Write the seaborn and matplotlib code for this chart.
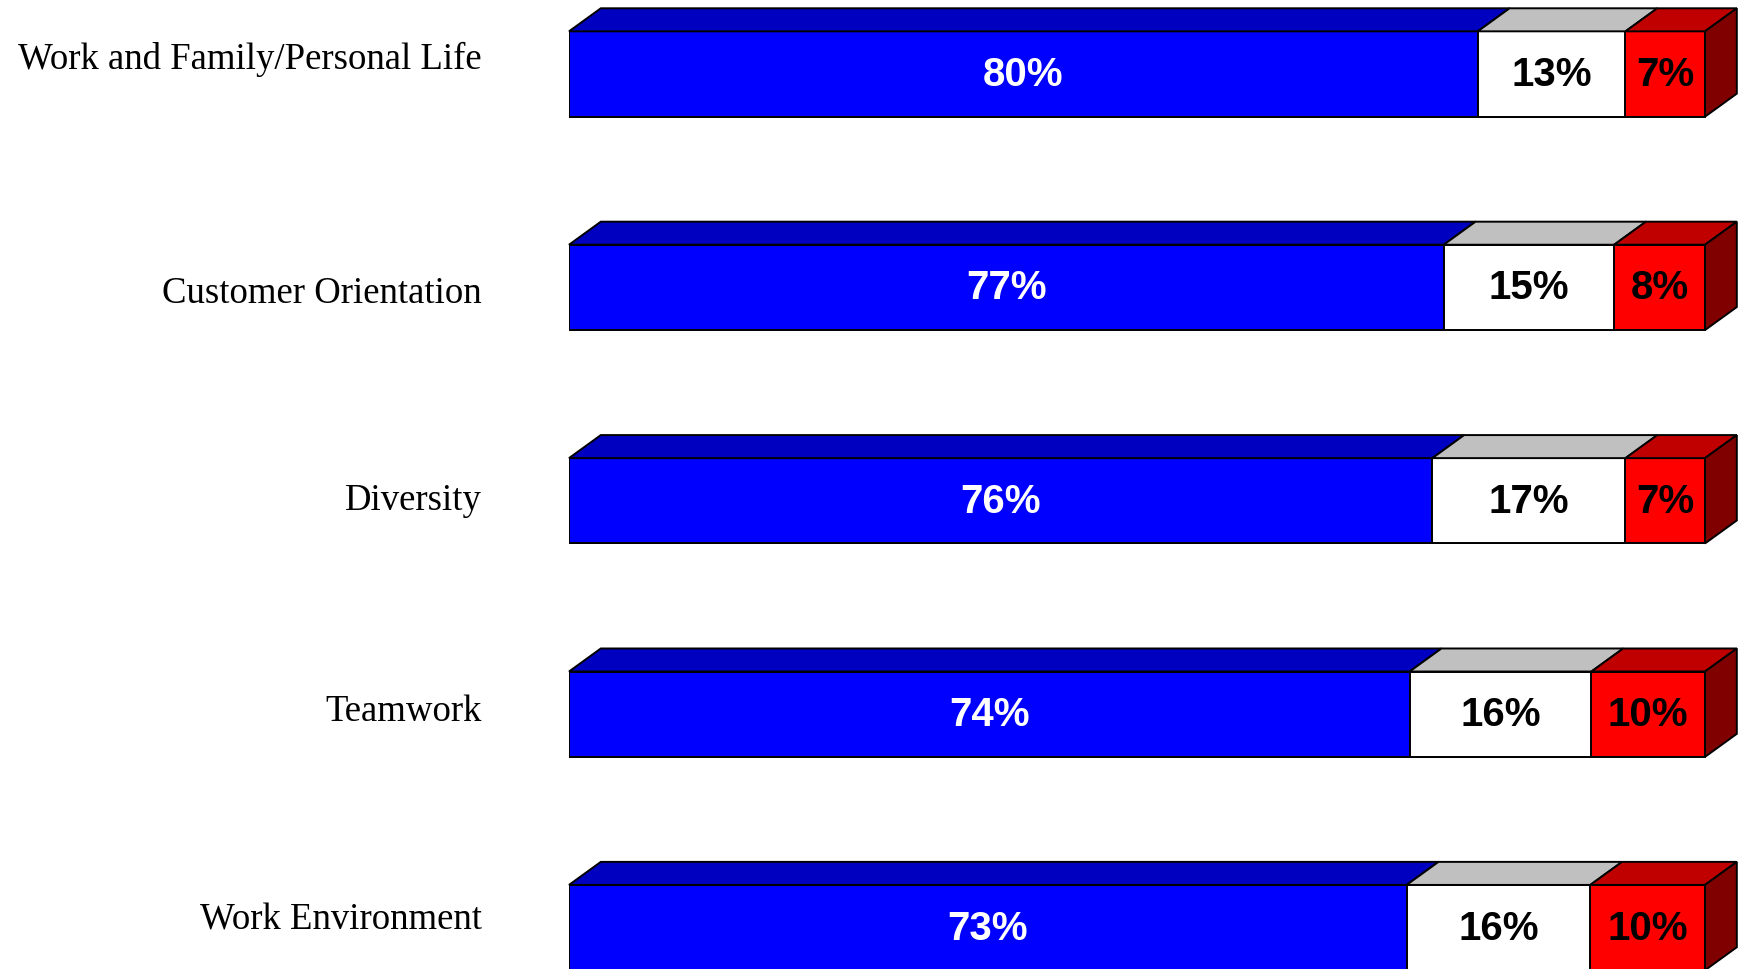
import numpy as np
import matplotlib
matplotlib.use("Agg")
import matplotlib.pyplot as plt
import seaborn as sns
from matplotlib.patches import Polygon
from matplotlib.transforms import blended_transform_factory

# ---- data ----
categories = ["Work and Family/Personal Life", "Customer Orientation",
              "Diversity", "Teamwork", "Work Environment"]
favorable = [80, 77, 76, 74, 73]
neutral = [13, 15, 17, 16, 16]
unfavorable = [7, 8, 7, 10, 10]

# ---- style ----
BLUE, BLUE_TOP = "#0000FF", "#0000C0"
WHITE, WHITE_TOP = "#FFFFFF", "#C0C0C0"
RED, RED_TOP, RED_SIDE = "#FF0000", "#C00000", "#800000"
BAR_W = 0.4
DX, DY = 2.8, 0.108   # 3-D depth offsets in data units
LW = 1.4
label_nudge_pt = [11.2, -3.9, 0.8, 2.6, 6.2]   # vertical label nudges (points)

sns.set_style("white")
fig = plt.figure(figsize=(17.43, 9.70), dpi=100)
left = 569 / 1743
ax = fig.add_axes([left, 0, 1 - left, 1])

fav = np.array(favorable, float)
neu = np.array(neutral, float)
unf = np.array(unfavorable, float)
tot = fav + neu + unf
fav_p, neu_p, unf_p = fav / tot * 100, neu / tot * 100, unf / tot * 100
c1 = fav_p
c2 = fav_p + neu_p
c3 = c2 + unf_p

for widths, col in [(c3, RED), (c2, WHITE), (c1, BLUE)]:
    sns.barplot(x=widths, y=categories, orient="h", color=col, width=BAR_W,
                edgecolor="black", linewidth=LW, saturation=1, errorbar=None,
                ax=ax)

# 3-D top faces and right side
for i in range(len(categories)):
    yt = i - BAR_W / 2
    yb = i + BAR_W / 2
    segs = [(0, c1[i], BLUE_TOP), (c1[i], c2[i], WHITE_TOP), (c2[i], c3[i], RED_TOP)]
    for x0, x1, col in segs:
        ax.add_patch(Polygon([(x0, yt), (x1, yt), (x1 + DX, yt - DY), (x0 + DX, yt - DY)],
                             closed=True, facecolor=col, edgecolor="black",
                             linewidth=LW, clip_on=False, zorder=3))
    xe = c3[i]
    ax.add_patch(Polygon([(xe, yt), (xe, yb), (xe + DX, yb - DY), (xe + DX, yt - DY)],
                         closed=True, facecolor=RED_SIDE, edgecolor="black",
                         linewidth=LW, clip_on=False, zorder=3))
    # value labels
    for (x0, x1, _), v, tc in zip(segs, [favorable[i], neutral[i], unfavorable[i]],
                                  ["white", "black", "black"]):
        ax.text((x0 + x1) / 2, i, f"{v}%", ha="center", va="center",
                color=tc, fontsize=29, fontweight="bold",
                family="Liberation Sans", zorder=4)

ax.set_xlim(0, (1743 - 569) / 11.36)
ax.set_ylim(4.194, -0.3515)
ax.set_xticks([])
ax.set_yticks([])
ax.set_xlabel("")
ax.set_ylabel("")
for s in ax.spines.values():
    s.set_visible(False)

# category labels
trans = blended_transform_factory(ax.transAxes, ax.transData)
for i, cat in enumerate(categories):
    ax.annotate(cat, xy=(0, i), xycoords=trans,
                xytext=(-62.6, label_nudge_pt[i]), textcoords="offset points",
                ha="right", va="center", fontsize=26.5,
                family="Liberation Serif", color="black", annotation_clip=False)

fig.savefig("out.png", dpi=100)
